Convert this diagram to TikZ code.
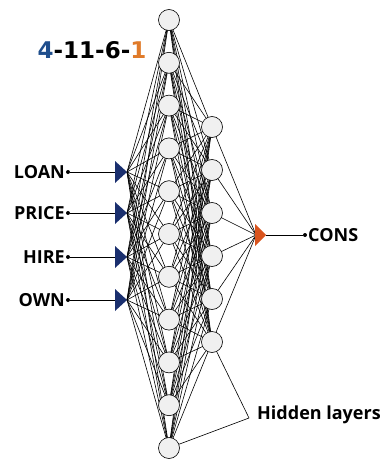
\documentclass[tikz,border=0pt]{standalone}
\usepackage{fontspec}
\setmainfont{Open Sans}
\newfontfamily\titlefont{DejaVu Sans}
\usetikzlibrary{backgrounds}
\definecolor{navy}{HTML}{1A2F6E}
\definecolor{tblue}{HTML}{1F4E8C}
\definecolor{torange}{HTML}{E07B2A}
\definecolor{outor}{HTML}{D9541E}
\begin{document}
\begin{tikzpicture}[x=1pt,y=-1pt,
  neuron/.style={circle,draw=black,fill=gray!12,line width=0.6pt,minimum size=21pt,inner sep=0pt},
  conn/.style={line width=0.6pt,black},
  lab/.style={font=\bfseries\fontsize{18}{18}\selectfont,inner sep=0pt},
  dotn/.style={circle,fill=black,inner sep=0pt,minimum size=4pt}]
\useasboundingbox (0,0) rectangle (382,460);
% title
\node[font=\titlefont\bfseries\fontsize{23}{23}\selectfont,inner sep=0pt] (title) at (92,50)
  {\textcolor{tblue}{4}-11-6-\textcolor{torange}{1}};
% hidden layer 1
\foreach \i in {1,...,11}
  \node[neuron] (a\i) at (169,{20+42.8*(\i-1)}) {};
% hidden layer 2
\foreach \j in {1,...,6}
  \node[neuron] (b\j) at (212,{127+43*(\j-1)}) {};
% inputs
\foreach \k/\y/\t in {1/172/LOAN,2/213/PRICE,3/257/HIRE\ ,4/300/OWN}{
  \node[dotn] (d\k) at (68,\y) {};
  \node[lab,anchor=east] (l\k) at (65,\y) {\t};
  \coordinate (bs\k) at (115,\y);
  \coordinate (t\k) at (127,\y);
  \fill[navy] (115,\y-11) -- (127,\y) -- (115,\y+11) -- cycle;
  \draw[line width=0.7pt] (d\k) -- (bs\k);
}
% output
\coordinate (ol) at (256,235);
\coordinate (ot) at (266,235);
\fill[outor] (255,224) -- (266,235) -- (255,246) -- cycle;
\node[dotn] (od) at (305,235) {};
\draw[line width=0.7pt] (ot) -- (od);
\node[lab,anchor=west] (cons) at (308,235) {CONS};
% hidden layers label
\node[lab,anchor=west] (hid) at (257,415) {Hidden layers};
\coordinate (hp) at (249,418);
\draw[line width=0.6pt] (hp) -- (b6);
\draw[line width=0.6pt] (hp) -- (a11);
% connections
\begin{scope}[on background layer]
  \foreach \k in {1,...,4}
    \foreach \i in {1,...,11}
      \draw[conn] (t\k) -- (a\i.center);
  \foreach \i in {1,...,11}
    \foreach \j in {1,...,6}
      \draw[conn] (a\i.center) -- (b\j.center);
  \foreach \j in {1,...,6}
    \draw[conn] (b\j.center) -- (ol);
\end{scope}
\end{tikzpicture}
\end{document}
